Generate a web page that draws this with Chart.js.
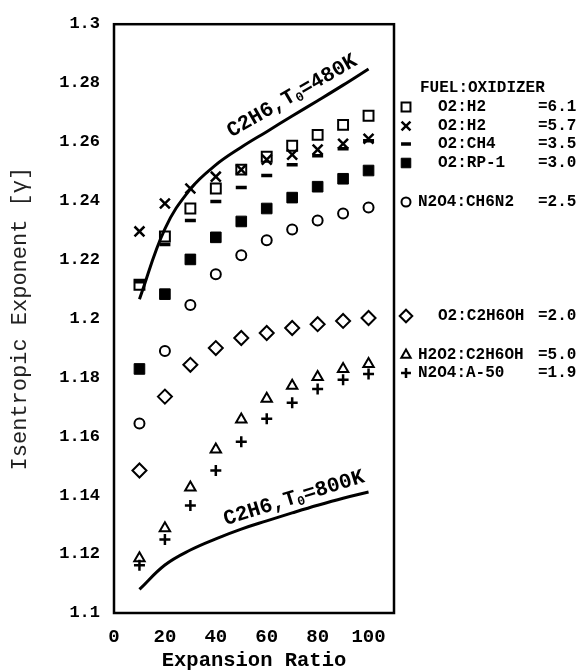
<!DOCTYPE html>
<html>
<head>
<meta charset="utf-8">
<script src="https://cdn.jsdelivr.net/npm/chart.js@4.4.1/dist/chart.umd.min.js"></script>
<style>
  html, body { margin: 0; padding: 0; background: #fff; }
  canvas { display: block; }
</style>
</head>
<body>
<canvas id="chart" width="581" height="671"></canvas>
<script>
// expansion ratios where the propellant points sit
const expansionRatio = [10, 20, 30, 40, 50, 60, 70, 80, 90, 100];

// isentropic exponent per propellant
const o2h2_61 = [1.2115, 1.2279, 1.2374, 1.2442, 1.2506, 1.2550, 1.2587, 1.2624, 1.2658, 1.2689];
const o2h2_57 = [1.2296, 1.2391, 1.2442, 1.2482, 1.2506, 1.2540, 1.2557, 1.2574, 1.2594, 1.2611];
const o2ch4 = [1.2125, 1.2252, 1.2333, 1.2398, 1.2445, 1.2486, 1.2523, 1.2553, 1.2577, 1.2604];
const o2rp1 = [1.1829, 1.2083, 1.2201, 1.2276, 1.2330, 1.2374, 1.2411, 1.2448, 1.2475, 1.2503];
const n2o4ch6n2 = [1.1644, 1.1890, 1.2046, 1.2151, 1.2215, 1.2266, 1.2303, 1.2333, 1.2357, 1.2377];
const o2c2h6oh = [1.1484, 1.1735, 1.1843, 1.1900, 1.1934, 1.1951, 1.1968, 1.1981, 1.1992, 1.2002];
const h2o2c2h6oh = [1.1186, 1.1288, 1.1426, 1.1555, 1.1657, 1.1728, 1.1772, 1.1802, 1.1829, 1.1846];
const n2o4a50 = [1.1162, 1.1250, 1.1365, 1.1484, 1.1582, 1.1660, 1.1714, 1.1761, 1.1792, 1.1812];

// C2H6 reference curves
const c2h6_480K = [1.2066, 1.2305, 1.2440, 1.2522, 1.2582, 1.2635, 1.2688, 1.2740, 1.2793, 1.2848];
const c2h6_800K = [1.1080, 1.1163, 1.1214, 1.1252, 1.1285, 1.1313, 1.1340, 1.1366, 1.1390, 1.1411];

const legendNames = ["O2:H2", "O2:H2", "O2:CH4", "O2:RP-1", "N2O4:CH6N2", "O2:C2H6OH", "H2O2:C2H6OH", "N2O4:A-50"];
const legendRatios = ["=6.1", "=5.7", "=3.5", "=3.0", "=2.5", "=2.0", "=5.0", "=1.9"];

const xTicks = [0, 20, 40, 60, 80, 100];
const yTicks = [1.1, 1.12, 1.14, 1.16, 1.18, 1.2, 1.22, 1.24, 1.26, 1.28, 1.3];

const mono = "'Liberation Mono', 'Courier New', monospace";
Chart.defaults.font.family = mono;
Chart.defaults.color = "#000";

function pts(values) {
  return expansionRatio.map((x, i) => ({ x, y: values[i] }));
}

// marker look for each propellant, same order as the legend
const markers = [
  { pointStyle: "rect", pointRadius: 7, pointBorderWidth: 2, pointBackgroundColor: "transparent" },
  { pointStyle: "crossRot", pointRadius: 7, pointBorderWidth: 2.5, pointBackgroundColor: "transparent" },
  { pointStyle: "line", pointRadius: 5.5, pointBorderWidth: 3.5, pointBackgroundColor: "transparent" },
  { pointStyle: "rect", pointRadius: 7.5, pointBorderWidth: 1, pointBackgroundColor: "#000" },
  { pointStyle: "circle", pointRadius: 5, pointBorderWidth: 2, pointBackgroundColor: "transparent" },
  { pointStyle: "rectRot", pointRadius: 7, pointBorderWidth: 2, pointBackgroundColor: "transparent" },
  { pointStyle: "triangle", pointRadius: 6, pointBorderWidth: 2, pointBackgroundColor: "transparent" },
  { pointStyle: "cross", pointRadius: 5.5, pointBorderWidth: 2.5, pointBackgroundColor: "transparent" },
];
const series = [o2h2_61, o2h2_57, o2ch4, o2rp1, n2o4ch6n2, o2c2h6oh, h2o2c2h6oh, n2o4a50];

const pointSets = series.map((vals, i) => ({
  label: legendNames[i] + " " + legendRatios[i],
  data: pts(vals),
  showLine: false,
  pointBorderColor: "#000",
  pointHoverRadius: markers[i].pointRadius,
  ...markers[i],
}));

const curveSet = (label, vals) => ({
  label,
  data: pts(vals),
  showLine: true,
  borderColor: "#000",
  borderWidth: 3,
  pointRadius: 0,
  tension: 0.4,
  fill: false,
});

const framePlugin = {
  id: "frame",
  beforeDatasetsDraw(chart) {
    const { ctx, chartArea: a } = chart;
    ctx.save();
    ctx.lineWidth = 2.5;
    ctx.strokeStyle = "#000";
    ctx.strokeRect(a.left, a.top, a.right - a.left, a.bottom - a.top);
    ctx.restore();
  },
};

// rotated "C2H6,T0=..." labels with subscript 0
function curveLabel(ctx, cx, cy, deg, temp) {
  const big = "bold 21px " + mono;
  const small = "bold 13px " + mono;
  const a = "C2H6,T", b = "0", c = "=" + temp;
  ctx.save();
  ctx.translate(cx, cy);
  ctx.rotate((deg * Math.PI) / 180);
  ctx.fillStyle = "#000";
  ctx.textBaseline = "middle";
  ctx.textAlign = "left";
  ctx.font = big;
  const wa = ctx.measureText(a).width, wc = ctx.measureText(c).width;
  ctx.font = small;
  const wb = ctx.measureText(b).width;
  let x = -(wa + wb + wc) / 2;
  ctx.font = big;
  ctx.fillText(a, x, 0);
  ctx.font = small;
  ctx.fillText(b, x + wa, 5);
  ctx.font = big;
  ctx.fillText(c, x + wa + wb, 0);
  ctx.restore();
}

const notesPlugin = {
  id: "notes",
  afterDraw(chart) {
    const { ctx, scales } = chart;
    const xs = scales.x, ys = scales.y;
    curveLabel(ctx, xs.getPixelForValue(70), ys.getPixelForValue(1.2755), -30, "480K");
    curveLabel(ctx, xs.getPixelForValue(70.7), ys.getPixelForValue(1.1389), -17.3, "800K");

    // legend block at the right
    const rows = [107, 126, 144, 163, 202, 316, 355, 373];
    ctx.save();
    ctx.fillStyle = "#000";
    ctx.textBaseline = "middle";
    ctx.textAlign = "left";
    ctx.font = "bold 16px " + mono;
    ctx.fillText("FUEL:OXIDIZER", 420, 88);
    legendNames.forEach((name, i) => {
      const y = rows[i];
      const m = markers[i];
      ctx.save();
      ctx.strokeStyle = "#000";
      ctx.fillStyle = m.pointBackgroundColor;
      ctx.lineWidth = m.pointBorderWidth;
      Chart.helpers.drawPoint(ctx, {
        pointStyle: m.pointStyle,
        radius: m.pointRadius * 0.9,
        rotation: 0,
        borderWidth: m.pointBorderWidth,
      }, 406, y);
      ctx.restore();
      ctx.fillText(name, name.startsWith("O2") ? 438 : 418, y);
      ctx.fillText(legendRatios[i], 538, y);
    });
    ctx.restore();
  },
};

new Chart(document.getElementById("chart"), {
  type: "scatter",
  data: {
    datasets: [
      ...pointSets,
      curveSet("C2H6, T0=480K", c2h6_480K),
      curveSet("C2H6, T0=800K", c2h6_800K),
    ],
  },
  options: {
    responsive: false,
    animation: false,
    layout: { padding: { top: 22, right: 187, left: 0, bottom: 0 } },
    plugins: { legend: { display: false }, tooltip: { enabled: false } },
    scales: {
      x: {
        type: "linear",
        min: 0,
        max: 110,
        afterBuildTicks: (s) => { s.ticks = xTicks.map((v) => ({ value: v })); },
        afterFit: (s) => { s.height = 58; },
        grid: { display: false, drawTicks: false },
        border: { display: false },
        ticks: { font: { size: 19, weight: "bold" }, padding: 13, maxRotation: 0, autoSkip: false },
        title: {
          display: true,
          text: "Expansion Ratio",
          font: { size: 20.5, weight: "bold", lineHeight: 1 },
          padding: { top: 0, bottom: 0 },
        },
      },
      y: {
        type: "linear",
        min: 1.1,
        max: 1.3,
        afterBuildTicks: (s) => { s.ticks = yTicks.map((v) => ({ value: v })); },
        afterFit: (s) => { s.width = 114; },
        grid: { display: false, drawTicks: false },
        border: { display: false },
        ticks: {
          font: { size: 17, weight: "bold" },
          padding: 14,
          autoSkip: false,
          callback: (v) => String(+Number(v).toFixed(2)),
        },
        title: {
          display: true,
          text: "Isentropic Exponent [γ]",
          color: "#222",
          font: { size: 22, lineHeight: 1.2 },
          padding: { top: 7, bottom: 0 },
        },
      },
    },
  },
  plugins: [framePlugin, notesPlugin],
});
</script>
</body>
</html>
